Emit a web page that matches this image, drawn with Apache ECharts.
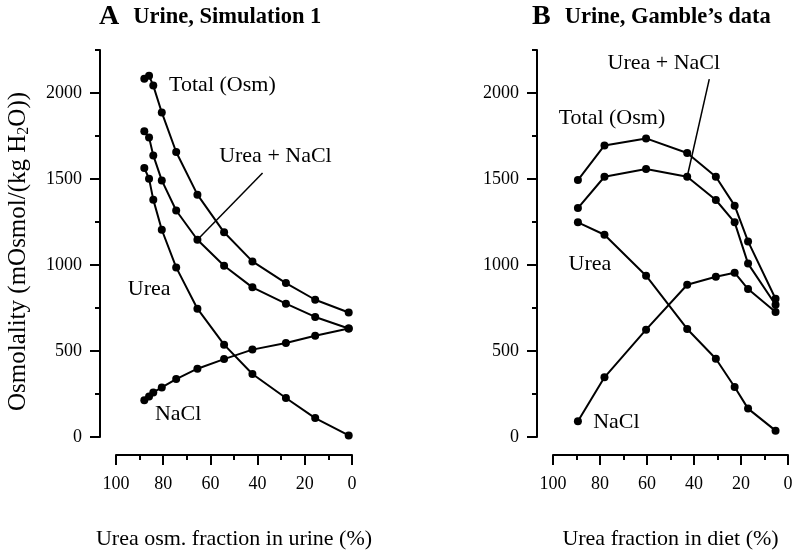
<!DOCTYPE html>
<html>
<head>
<meta charset="utf-8">
<title>Urine osmolality</title>
<script src="https://cdn.jsdelivr.net/npm/echarts@6/dist/echarts.min.js"></script>
<style>
    html, body { margin: 0; padding: 0; background: #fff; }
    #main { width: 795px; height: 550px; }
</style>
</head>
<body>
<div id="main"></div>
<script type="text/javascript">
    // panel A - simulation
    var simX = [88, 86, 84.2, 80.6, 74.5, 65.5, 54.2, 42.2, 28, 15.6, 1.4];
    var simTotal = [2083, 2101, 2043, 1887, 1657, 1409, 1190, 1021, 895, 798, 724];
    var simUreaNaCl = [1777, 1742, 1637, 1492, 1317, 1147, 996, 870, 775, 698, 631];
    var simUrea = [1564, 1502, 1380, 1205, 986, 746, 537, 366, 227, 110, 9];
    var simNaCl = [213, 236, 259, 288, 337, 397, 453, 508, 547, 589, 631];

    // panel B - Gamble's data
    var gamX = [89.4, 78.1, 60.4, 42.9, 30.7, 22.7, 17.0, 5.3];
    var gamTotal = [1494, 1695, 1736, 1651, 1513, 1345, 1137, 804];
    var gamUreaNaCl = [1331, 1513, 1558, 1513, 1378, 1248, 1008, 769];
    var gamUrea = [1248, 1176, 938, 628, 455, 291, 165, 37];
    var gamNaCl = [91, 347, 624, 885, 932, 955, 860, 727];

    // tick labels
    var yLabels = [0, 500, 1000, 1500, 2000];
    var xLabels = [0, 20, 40, 60, 80, 100];

    // curve names and where they sit (data coords)
    var simNotes = ['Total (Osm)', 'Urea + NaCl', 'Urea', 'NaCl'];
    var simNoteAt = [[77.5, 2048], [56.3, 1631], [95, 857], [83.5, 130]];
    var simLeader = [[37.9, 1535], [65.5, 1147]];
    var gamNotes = ['Urea + NaCl', 'Total (Osm)', 'Urea', 'NaCl'];
    var gamNoteAt = [[76.8, 2174], [97.6, 1856], [93.4, 1002], [82.9, 85]];
    var gamLeader = [[33.5, 2081], [42.9, 1513]];

    var FONT = '"Liberation Serif", "Times New Roman", serif';

    function pairs(xs, ys) {
        return xs.map(function (x, i) { return [x, ys[i]]; });
    }

    function plain(v) { return String(v); }

    function xAxes(grid, title) {
        return [
            {
                gridIndex: grid, type: 'value', position: 'bottom', min: 0, max: 100, interval: 10,
                inverse: true, offset: 18,
                axisLine: { show: true, onZero: false, lineStyle: { color: '#000', width: 2 } },
                axisTick: { show: true, length: 5, lineStyle: { color: '#000', width: 2 } },
                axisLabel: { customValues: xLabels, formatter: plain, margin: 20, fontSize: 18, fontFamily: FONT, color: '#000' },
                splitLine: { show: false },
                name: title, nameLocation: 'middle', nameGap: 73,
                nameTextStyle: { fontSize: 22, fontFamily: FONT, color: '#000' }
            },
            {
                gridIndex: grid, type: 'value', position: 'bottom', min: 0, max: 100,
                inverse: true, offset: 18,
                axisLine: { show: false, onZero: false },
                axisTick: { show: true, customValues: xLabels, length: 10, lineStyle: { color: '#000', width: 2 } },
                axisLabel: { show: false },
                splitLine: { show: false }
            }
        ];
    }

    function yAxes(grid, withName) {
        var main = {
            gridIndex: grid, type: 'value', position: 'left', min: 0, max: 2250, interval: 250, offset: 16,
            axisLine: { show: true, onZero: false, lineStyle: { color: '#000', width: 2 } },
            axisTick: { show: true, length: 5, lineStyle: { color: '#000', width: 2 } },
            axisLabel: { customValues: yLabels, formatter: plain, margin: 18, fontSize: 18, fontFamily: FONT, color: '#000' },
            splitLine: { show: false }
        };
        if (withName) {
            main.name = '{t|Osmolality (mOsmol/(kg H}{s|2}{t|O))}';
            main.nameLocation = 'middle';
            main.nameGap = 68;
            main.nameRotate = 90;
            main.nameTextStyle = {
                color: '#000',
                padding: [0, 16, 0, 0],
                rich: {
                    t: { fontSize: 25, fontFamily: FONT, color: '#000' },
                    s: { fontSize: 16, fontFamily: FONT, color: '#000', padding: [11, 0, 0, 0] }
                }
            };
        }
        return [main, {
            gridIndex: grid, type: 'value', position: 'left', min: 0, max: 2250, offset: 16,
            axisLine: { show: false, onZero: false },
            axisTick: { show: true, customValues: yLabels, length: 10, lineStyle: { color: '#000', width: 2 } },
            axisLabel: { show: false },
            splitLine: { show: false }
        }];
    }

    function curve(xi, yi, xs, ys) {
        return {
            type: 'line', xAxisIndex: xi, yAxisIndex: yi, data: pairs(xs, ys),
            symbol: 'circle', symbolSize: 8, showSymbol: true,
            itemStyle: { color: '#000' },
            lineStyle: { color: '#000', width: 2 }
        };
    }

    function notes(xi, yi, texts, at) {
        return {
            type: 'scatter', xAxisIndex: xi, yAxisIndex: yi, symbolSize: 0, silent: true,
            itemStyle: { color: '#000', opacity: 1 },
            data: at.map(function (p, i) { return { value: p, name: texts[i] }; }),
            label: {
                show: true, position: [0, 0], align: 'left', verticalAlign: 'middle', opacity: 1,
                formatter: '{b}', fontSize: 22, fontFamily: FONT, color: '#000'
            }
        };
    }

    function leader(xi, yi, pts) {
        return {
            type: 'line', xAxisIndex: xi, yAxisIndex: yi, data: pts, symbol: 'none', silent: true,
            lineStyle: { color: '#000', width: 1.5 }
        };
    }

    function heading(left, letter, text) {
        return {
            left: left, top: 3, padding: 0,
            text: '{a|' + letter + '}{b|' + text + '}',
            textStyle: { rich: {
                a: { fontSize: 28, fontWeight: 'bold', fontFamily: FONT, color: '#000', padding: [0, 14, 0, 0] },
                b: { fontSize: 22.5, fontWeight: 'bold', fontFamily: FONT, color: '#000' }
            } }
        };
    }

    var myChart = echarts.init(document.getElementById('main'), null, { renderer: 'canvas' });
    myChart.setOption({
        animation: false,
        backgroundColor: '#fff',
        title: [
            heading(99, 'A', 'Urine, Simulation 1'),
            heading(532, 'B', 'Urine, Gamble\u2019s data')
        ],
        grid: [
            { left: 116, top: 50, width: 236, height: 387, containLabel: false, outerBoundsMode: 'none' },
            { left: 553, top: 50, width: 235, height: 387, containLabel: false, outerBoundsMode: 'none' }
        ],
        xAxis: xAxes(0, 'Urea osm. fraction in urine (%)').concat(xAxes(1, 'Urea fraction in diet (%)')),
        yAxis: yAxes(0, true).concat(yAxes(1, false)),
        series: [
            curve(0, 0, simX, simTotal),
            curve(0, 0, simX, simUreaNaCl),
            curve(0, 0, simX, simUrea),
            curve(0, 0, simX, simNaCl),
            leader(0, 0, simLeader),
            notes(0, 0, simNotes, simNoteAt),
            curve(2, 2, gamX, gamTotal),
            curve(2, 2, gamX, gamUreaNaCl),
            curve(2, 2, gamX, gamUrea),
            curve(2, 2, gamX, gamNaCl),
            leader(2, 2, gamLeader),
            notes(2, 2, gamNotes, gamNoteAt)
        ]
    });
</script>
</body>
</html>
